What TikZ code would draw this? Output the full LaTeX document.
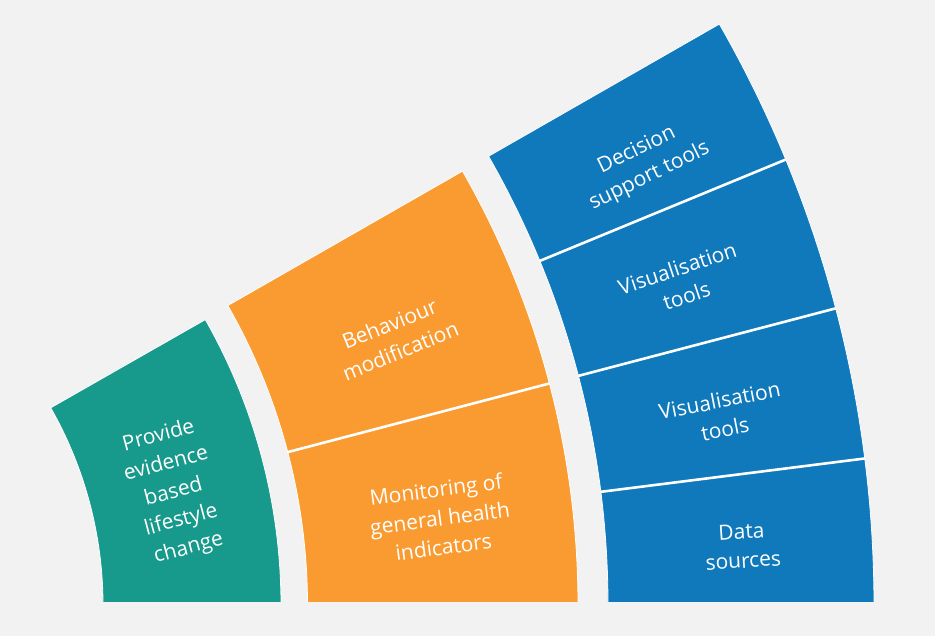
\documentclass[tikz,border=0pt]{standalone}
\usepackage{fontspec}
\setmainfont{Open Sans}
\usetikzlibrary{positioning}
\definecolor{BandTeal}{HTML}{17998B}
\definecolor{BandOrange}{HTML}{F99B31}
\definecolor{BandBlue}{HTML}{0F79BC}
\definecolor{PageBack}{HTML}{F2F2F2}
\tikzset{band/.style={draw=white,line width=0.8pt},divider/.style={draw=white,
 line width=2.6pt},bandtext/.style={text=white,align=center,inner sep=0pt,
 font=\fontsize{21}{29}\selectfont}}
% annular sector: colour, inner radius, outer radius, top angle, bottom angle
\newcommand\bandsector[5]{\path[band,fill=#1] (#4:#2) arc[start angle=#4,end angle=#5,radius=#2]
 -- (#5:#3) arc[start angle=#5,end angle=#4,radius=#3] -- cycle;}

\begin{document}
\begin{tikzpicture}[x=1pt,y=1pt]
\fill[PageBack] (0,0) rectangle (935,636);
\useasboundingbox (0,0) rectangle (935,636);
\begin{scope}[shift={(-295,31)}]
\clip (-500,3.5) rectangle (1500,1500);
% the three bands
\bandsector{BandTeal}{398}{576}{29.7}{-3}
\bandsector{BandOrange}{602.5}{873}{29.8}{-3}
\bandsector{BandBlue}{903}{1169}{29.8}{-3}
% white dividers
\draw[divider] (14.7:602.5) -- (14.7:873);
\draw[divider] (22.4:903) -- (22.4:1169);
\draw[divider] (14.7:903) -- (14.7:1169);
\draw[divider] (7.2:903) -- (7.2:1169);
% texts
\node[bandtext,rotate=15] (evidence) at (13.5:482) {Provide\\evidence\\based\\lifestyle\\change};
\node[bandtext,rotate=22] (behaviour) at (21.2:740) {Behaviour\\modification};
\node[bandtext,rotate=7.5] (monitoring) at (6.75:740) {Monitoring of\\general health\\indicators};
\node[bandtext,rotate=26] (decision) at (25.2:1037) {Decision\\support tools};
\node[bandtext,rotate=18.5] (visual1) at (18.3:1029) {Visualisation\\tools};
\node[bandtext,rotate=11] (visual2) at (10.6:1035) {Visualisation\\tools};
\node[bandtext,rotate=3.7] (data) at (3.25:1039) {Data\\sources};
\end{scope}
\end{tikzpicture}
\end{document}
